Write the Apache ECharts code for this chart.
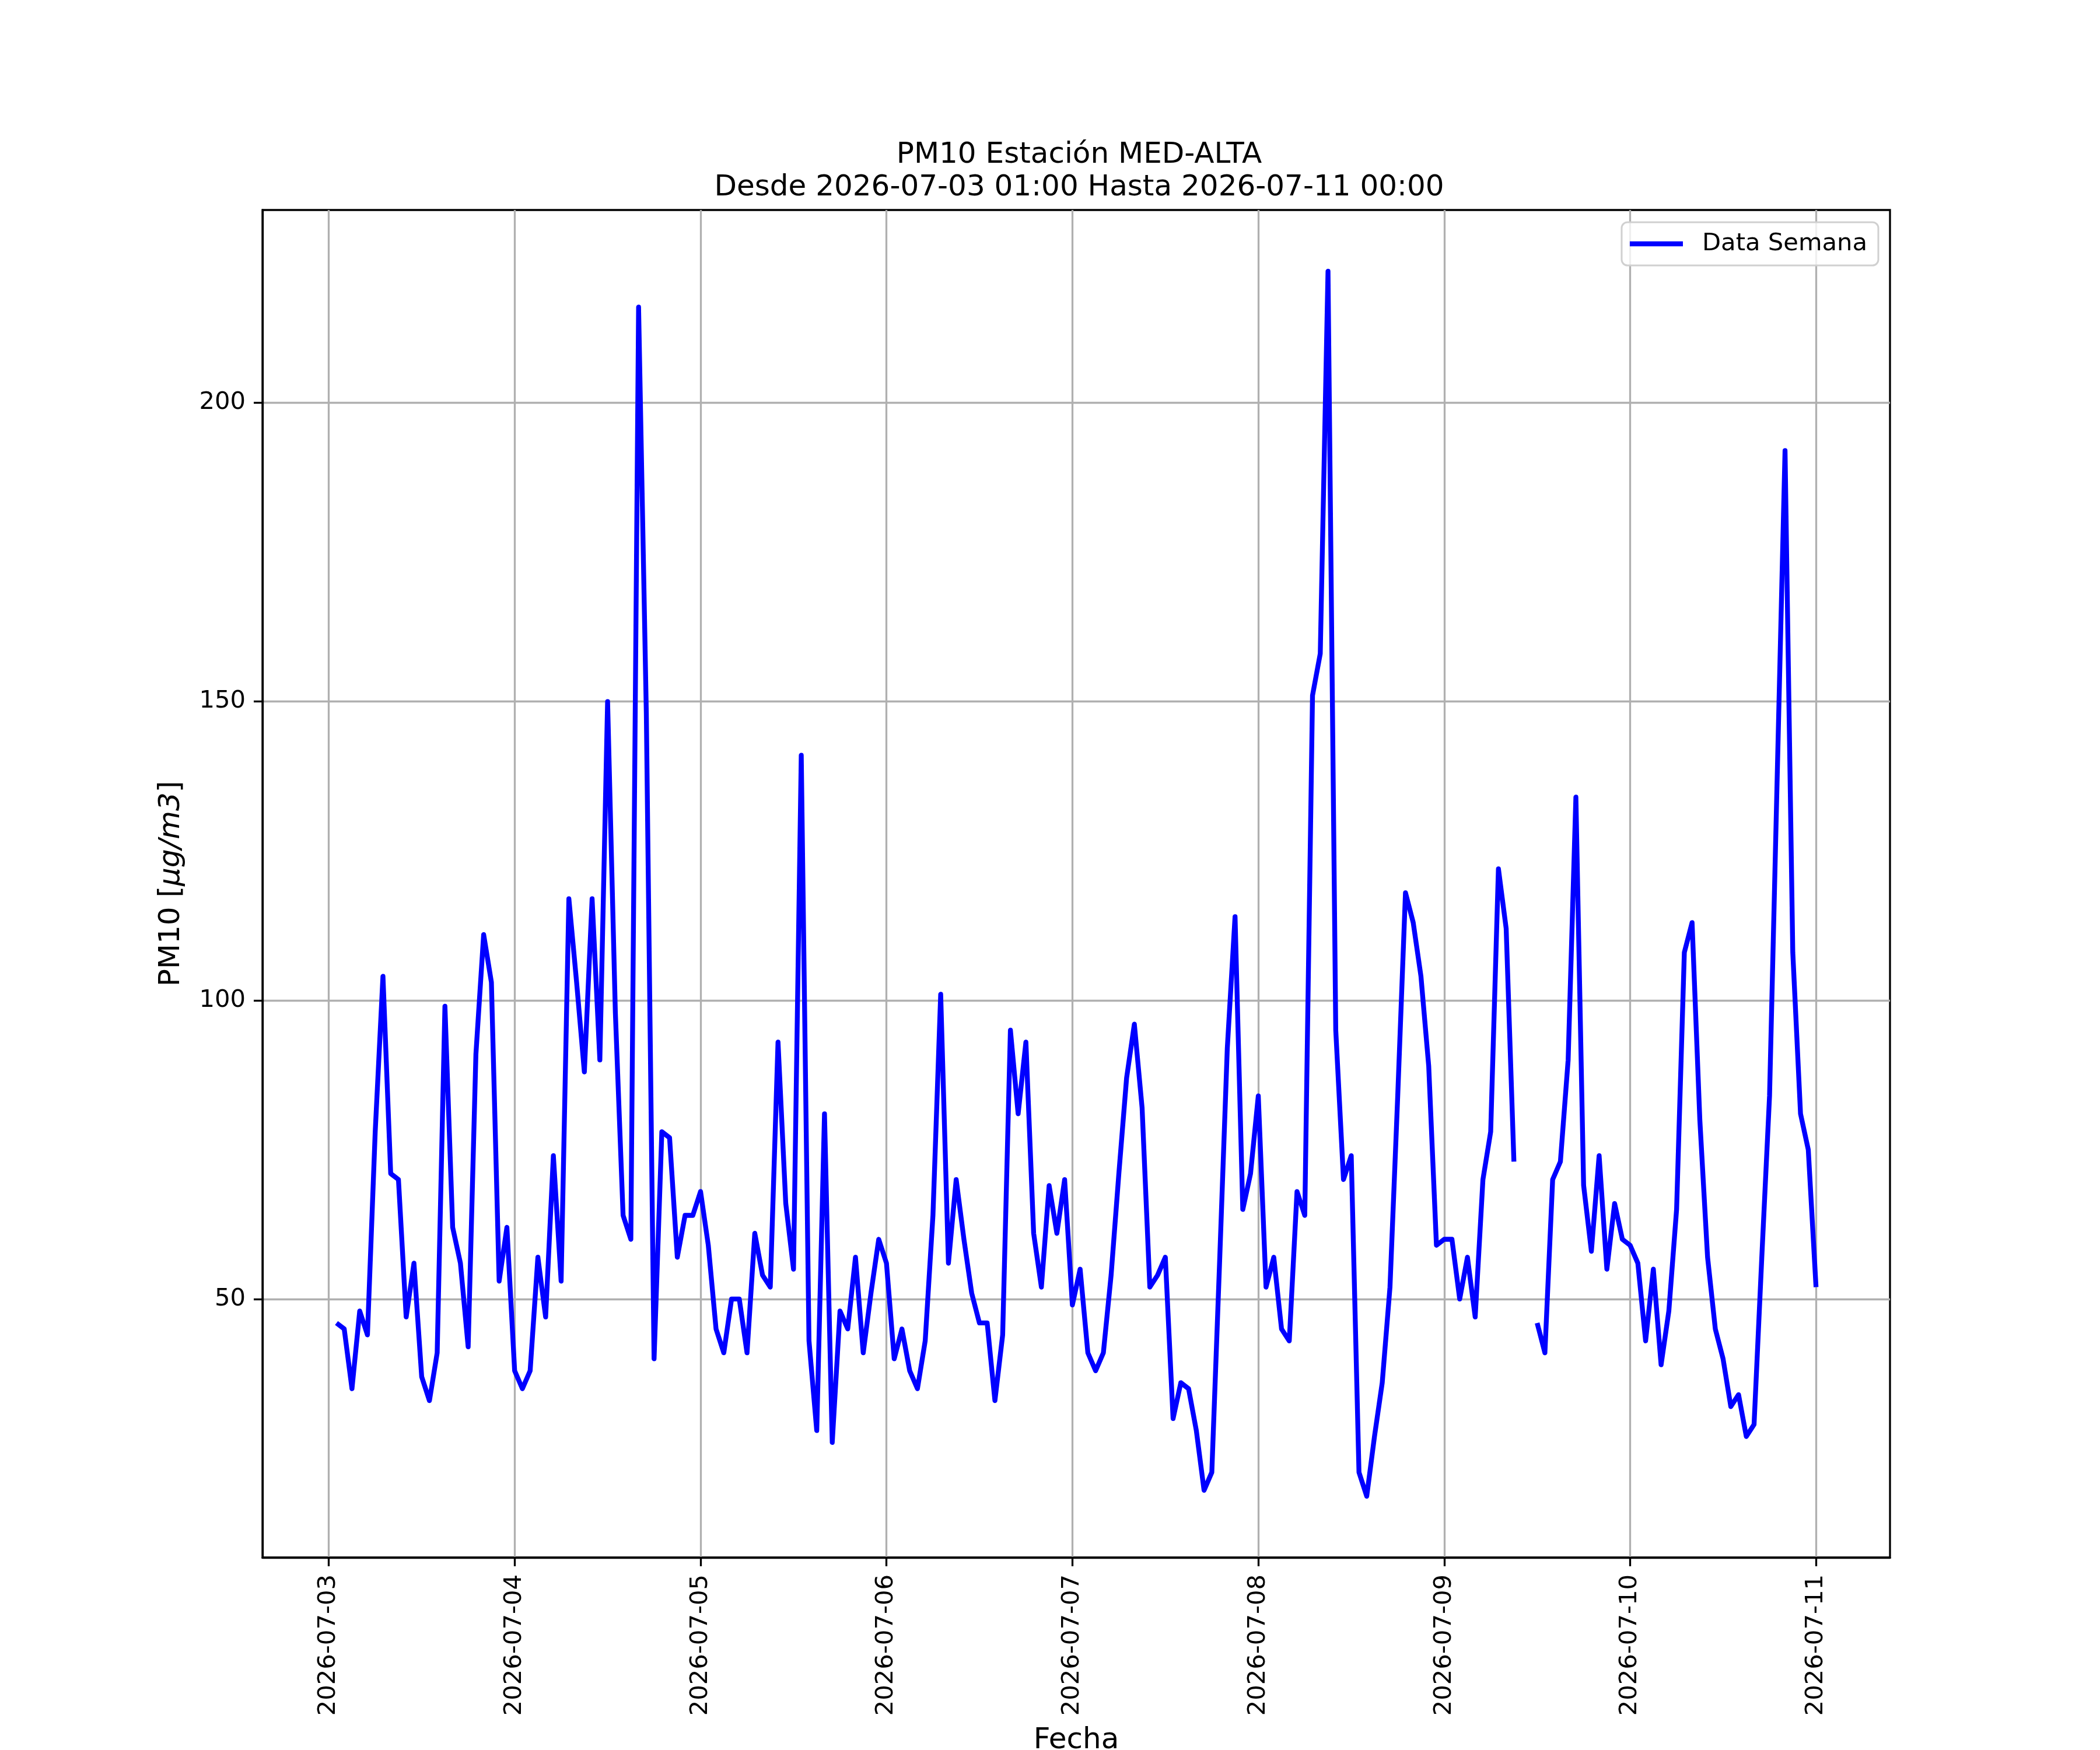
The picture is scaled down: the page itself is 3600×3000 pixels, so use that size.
<!DOCTYPE html>
<html>
<head>
<meta charset="utf-8">
<script src="https://cdn.jsdelivr.net/npm/echarts@6/dist/echarts.min.js"></script>
<style>
  html, body { margin: 0; padding: 0; background: #ffffff; }
  #chart { width: 3600px; height: 3000px; }
</style>
</head>
<body>
<div id="chart"></div>
<script>
// ---- data ----
const titleLines = ['PM10 Estación MED-ALTA', 'Desde 2026-07-03 01:00 Hasta 2026-07-11 00:00'];
const seriesName = 'Data Semana';
const dayLabels = ['2026-07-03', '2026-07-04', '2026-07-05', '2026-07-06', '2026-07-07',
                   '2026-07-08', '2026-07-09', '2026-07-10', '2026-07-11'];
const firstHour = 1;            // first sample: 2026-07-03 01:00 (hours after 2026-07-03 00:00)
const hoursPerDay = 24;
const pm10 = [
  46, 45, 35, 48, 44, 78, 104, 71, 70, 47,
  56, 37, 33, 41, 99, 62, 56, 42, 91, 111,
  103, 53, 62, 38, 35, 38, 57, 47, 74, 53,
  117, 103, 88, 117, 90, 150, 98, 64, 60, 216,
  148, 40, 78, 77, 57, 64, 64, 68, 59, 45,
  41, 50, 50, 41, 61, 54, 52, 93, 66, 55,
  141, 43, 28, 81, 26, 48, 45, 57, 41, 51,
  60, 56, 40, 45, 38, 35, 43, 64, 101, 56,
  70, 60, 51, 46, 46, 33, 44, 95, 81, 93,
  61, 52, 69, 61, 70, 49, 55, 41, 38, 41,
  54, 71, 87, 96, 82, 52, 54, 57, 30, 36,
  35, 28, 18, 21, 56, 92, 114, 65, 71, 84,
  52, 57, 45, 43, 68, 64, 151, 158, 222, 95,
  70, 74, 21, 17, 27, 36, 52, 84, 118, 113,
  104, 89, 59, 60, 60, 50, 57, 47, 70, 78,
  122, 112, 73, null, null, 46, 41, 70, 73, 90,
  134, 69, 58, 74, 55, 66, 60, 59, 56, 43,
  55, 39, 48, 65, 108, 113, 80, 57, 45, 40,
  32, 34, 27, 29, 57, 84, 138, 192, 108, 81,
  75, 52
];
const yTicks = [50, 100, 150, 200];

// ---- derived ----
const points = pm10.map((v, i) => [firstHour + i, v]);
const xTicks = dayLabels.map((d, i) => i * hoursPerDay);
const lastHour = firstHour + pm10.length - 1;
const xPad = 0.05 * (lastHour - firstHour);
const valid = pm10.filter(v => v !== null);
const yLo = Math.min(...valid), yHi = Math.max(...valid);
const yPad = 0.05 * (yHi - yLo);

const FONT = 'DejaVu Sans';
const LW = 8.33;
const chart = echarts.init(document.getElementById('chart'), null, { renderer: 'canvas', devicePixelRatio: 1 });

chart.setOption({
  animation: false,
  backgroundColor: '#ffffff',
  title: {
    text: titleLines.join('\n'),
    left: 1845,
    top: 233,
    textAlign: 'center',
    textStyle: { fontFamily: FONT, fontSize: 50, fontWeight: 'normal', color: '#000', lineHeight: 56 }
  },
  legend: {
    data: [{ name: seriesName, icon: 'rect' }],
    right: 380,
    top: 381,
    orient: 'vertical',
    itemWidth: 91,
    itemHeight: LW,
    padding: [15, 19, 15, 14],
    borderColor: '#d0d0d0',
    borderWidth: 3,
    borderRadius: 10,
    backgroundColor: 'rgba(255,255,255,0.8)',
    itemStyle: { color: '#0000ff', borderWidth: 0 },
    textStyle: { fontFamily: FONT, fontSize: 41.7, color: '#000', lineHeight: 44, padding: [0, 0, 0, 28] }
  },
  grid: {
    left: 450, right: 360, top: 360, bottom: 330,
    containLabel: false,
    outerBoundsMode: 'none',
    show: true, borderColor: '#000', borderWidth: 3.3, backgroundColor: 'transparent'
  },
  xAxis: {
    type: 'value',
    min: firstHour - xPad,
    max: lastHour + xPad,
    name: 'Fecha',
    nameLocation: 'middle',
    nameGap: 289,
    nameTextStyle: { fontFamily: FONT, fontSize: 50, color: '#000' },
    axisLine: { show: true, onZero: false, lineStyle: { color: '#000', width: 3.3 } },
    axisTick: { show: true, inside: false, length: 15, lineStyle: { color: '#000', width: 3.3 }, customValues: xTicks },
    axisLabel: {
      customValues: xTicks,
      rotate: 90,
      margin: 29,
      fontFamily: FONT, fontSize: 41.7, color: '#000',
      formatter: v => dayLabels[Math.round(v / hoursPerDay)]
    },
    splitLine: { show: true, lineStyle: { color: '#b0b0b0', width: 3.3 } }
  },
  yAxis: {
    type: 'value',
    min: yLo - yPad,
    max: yHi + yPad,
    name: '{a|PM10 [}{b|μg/m3}{a|]}',
    nameLocation: 'middle',
    nameRotate: 90,
    nameGap: 131,
    nameTextStyle: {
      fontFamily: FONT, fontSize: 50, color: '#000',
      rich: {
        a: { fontFamily: FONT, fontSize: 50, color: '#000' },
        b: { fontFamily: FONT, fontSize: 50, color: '#000', fontStyle: 'italic' }
      }
    },
    axisLine: { show: true, onZero: false, lineStyle: { color: '#000', width: 3.3 } },
    axisTick: { show: true, inside: false, length: 15, lineStyle: { color: '#000', width: 3.3 }, customValues: yTicks },
    axisLabel: { customValues: yTicks, margin: 29, fontFamily: FONT, fontSize: 41.7, color: '#000' },
    splitLine: { show: true, lineStyle: { color: '#b0b0b0', width: 3.3 } }
  },
  series: [{
    name: seriesName,
    type: 'line',
    data: points,
    symbol: 'none',
    showSymbol: false,
    connectNulls: false,
    smooth: false,
    lineStyle: { color: '#0000ff', width: LW, join: 'round', cap: 'butt' },
    itemStyle: { color: '#0000ff' }
  }]
});
</script>
</body>
</html>
